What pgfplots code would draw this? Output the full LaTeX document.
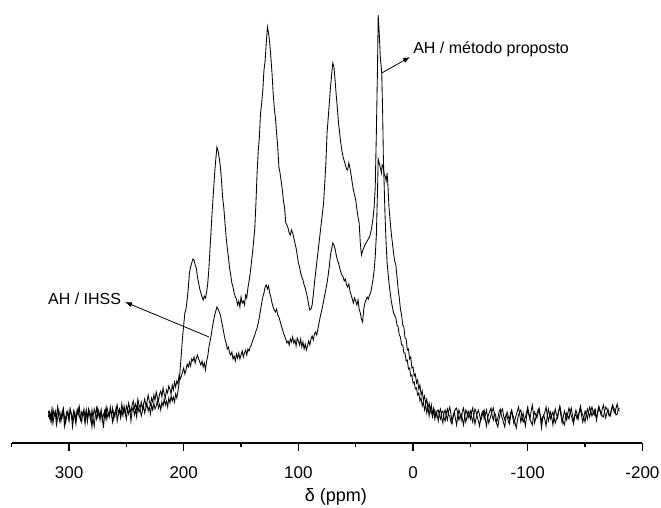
\documentclass[border=0pt]{standalone}
\usepackage{pgfplots}
\pgfplotsset{compat=1.18}
\usepackage{fontspec}
\setmainfont{Liberation Sans}
\usetikzlibrary{arrows.meta}

\pgfplotstableread{
x y
318 2
317 -5
316 -1
315 -9
314 4
313 -3
312 1
311 -12
310 -6
309 3
308 -2
307 -8
306 0
305 5
304 -4
303 -10
302 -3
301 2
300 -6
299 4
298 -1
297 -14
296 -5
295 1
294 -7
293 3
292 -2
291 6
290 -4
289 -9
288 0
287 -3
286 -11
285 2
284 -5
283 4
282 -2
281 -8
280 3
279 -6
278 -13
277 -1
276 5
275 -4
274 1
273 -7
272 2
271 -3
270 -15
269 -2
268 4
267 -6
266 0
265 -4
264 6
263 -2
262 -9
261 1
260 -3
259 5
258 -8
257 -1
256 3
255 -5
254 2
253 -3
252 7
251 0
250 -6
249 4
248 -1
247 5
246 -8
245 2
244 6
243 -2
242 3
241 -4
240 8
239 1
238 4
237 -3
236 2
235 7
234 0
233 5
232 9
231 2
230 6
229 -1
228 8
227 3
226 10
225 4
224 7
223 12
222 5
221 9
220 3
219 11
218 7
217 14
216 8
215 12
214 6
213 15
212 10
211 17
210 12
209 16
208 11
207 19
206 15
205 22
204 30
203 45
202 60
201 76
200 88
199 100
198 104
197 113
196 125
195 140
194 146
193 150
192 154
191 153
190 148
189 145
188 136
187 130
186 124
185 120
184 116
183 113
182 117
181 115
180 121
179 130
178 145
177 165
176 185
175 205
174 222
173 240
172 254
171 266
170 262
169 255
168 246
167 232
166 215
165 205
164 190
163 176
162 165
161 156
160 145
159 138
158 130
157 126
156 120
155 116
154 114
153 108
152 112
151 106
150 116
149 110
148 112
147 108
146 118
145 115
144 125
143 132
142 140
141 150
140 160
139 172
138 185
137 210
136 240
135 262
134 276
133 300
132 310
131 323
130 343
129 352
128 370
127 386
126 380
125 370
124 356
123 340
122 320
121 305
120 295
119 280
118 266
117 246
116 240
115 232
114 223
113 212
112 205
111 190
110 188
109 185
108 180
107 178
106 183
105 180
104 175
103 170
102 165
101 158
100 150
99 146
98 140
97 136
96 133
95 128
94 125
93 120
92 115
91 108
90 103
89 104
88 108
87 118
86 130
85 140
84 150
83 160
82 170
81 180
80 190
79 200
78 210
77 230
76 250
75 280
74 295
73 310
72 326
71 338
70 350
69 346
68 333
67 318
66 305
65 290
64 280
63 270
62 262
61 256
60 252
59 248
58 244
57 243
56 250
55 245
54 238
53 230
52 223
51 218
50 213
49 204
48 196
47 190
46 170
45 158
44 162
43 165
42 168
41 170
40 172
39 174
38 176
37 180
36 186
35 194
34 205
33 225
32 280
31 345
30.4 398
29.5 380
28.5 355
27.3 340
26.5 300
25.9 256
24.5 200
23.5 170
22.6 150
21 130
19 112
17 100
15 95
14 88
13 86
12 78
11 76
10 68
9 68
8 60
7 60
6 52
5 53
4 44
3 45
2 37
1 38
0 30
-1 31
-2 24
-3 25
-4 18
-5 20
-6 12
-7 15
-8 7
-9 11
-10 3
-11 8
-12 0
-13 6
-14 -3
-15 5
-16 1
-17 -4
-18 3
-19 -6
-20 2
-21 -2
-22 -8
-23 1
-24 4
-25 -5
-26 -10
-27 0
-28 3
-29 -3
-30 -7
-31 2
-32 6
-33 -1
-34 -9
-35 -4
-36 1
-37 -6
-38 -12
-39 -2
-40 3
-41 -1
-42 -7
-43 2
-44 5
-45 -3
-46 -9
-47 -4
-48 2
-49 -2
-50 -6
-51 1
-52 5
-53 -4
-54 -11
-55 -5
-56 0
-57 3
-58 -2
-59 -8
-60 -4
-61 1
-62 3
-63 -6
-64 -13
-65 -5
-66 -1
-67 2
-68 5
-69 -3
-70 -7
-71 0
-72 -2
-73 -9
-74 -5
-75 1
-76 4
-77 -2
-78 -6
-79 -10
-80 -14
-81 -4
-82 1
-83 -3
-84 -7
-85 0
-86 3
-87 -5
-88 -11
-89 -6
-90 -2
-91 2
-92 6
-93 -1
-94 -9
-95 -4
-96 0
-97 -7
-98 -13
-99 -3
-100 3
-101 -2
-102 -6
-103 2
-104 8
-105 -1
-106 -10
-107 -5
-108 -1
-109 3
-110 5
-111 -4
-112 -15
-113 -6
-114 -2
-115 1
-116 6
-117 -2
-118 -8
-119 -3
-120 1
-121 -5
-122 -12
-123 -2
-124 4
-125 -1
-126 -5
-127 2
-128 6
-129 -3
-130 -10
-131 -4
-132 2
-133 -2
-134 -7
-135 0
-136 5
-137 1
-138 -3
-139 -7
-140 -11
-141 -2
-142 3
-143 -1
-144 -6
-145 2
-146 7
-147 1
-148 -2
-149 -5
-150 -9
-151 -1
-152 4
-153 0
-154 -4
-155 2
-156 6
-157 1
-158 -2
-159 3
-160 -7
-161 0
-162 5
-163 2
-164 -2
-165 4
-166 8
-167 1
-168 -5
-169 0
-170 4
-171 -1
-172 -3
-173 3
-174 7
-175 2
-176 0
-177 5
-178 9
-179 3
-180 2
}\proposto

\pgfplotstableread{
x y
318 -4
317 1
316 -7
315 3
314 -10
313 -2
312 2
311 -5
310 6
309 -3
308 -9
307 0
306 -4
305 3
304 -13
303 -5
302 1
301 -2
300 -8
299 4
298 -1
297 -6
296 2
295 -4
294 -11
293 0
292 5
291 -3
290 -7
289 1
288 -2
287 4
286 -5
285 3
284 -9
283 -1
282 2
281 -4
280 -14
279 -3
278 4
277 -1
276 -6
275 5
274 1
273 -4
272 3
271 -8
270 -2
269 2
268 -5
267 6
266 1
265 -3
264 4
263 -2
262 5
261 -6
260 0
259 3
258 8
257 -1
256 4
255 -2
254 9
253 2
252 5
251 -1
250 7
249 3
248 10
247 4
246 1
245 8
244 12
243 5
242 9
241 3
240 14
239 8
238 5
237 11
236 4
235 9
234 14
233 7
232 11
231 18
230 12
229 8
228 15
227 11
226 18
225 13
224 21
223 16
222 12
221 19
220 22
219 16
218 25
217 19
216 15
215 23
214 20
213 27
212 24
211 19
210 28
209 23
208 31
207 26
206 32
205 29
204 38
203 34
202 37
201 41
200 45
199 39
198 43
197 49
196 46
195 51
194 47
193 54
192 52
191 56
190 50
189 55
188 58
187 54
186 51
185 48
184 52
183 46
182 50
181 43
180 52
179 57
178 66
177 72
176 78
175 86
174 92
173 98
172 102
171 106
170 104
169 101
168 98
167 92
166 86
165 80
164 74
163 70
162 64
161 66
160 60
159 58
158 61
157 54
156 57
155 52
154 59
153 55
152 60
151 54
150 58
149 62
148 56
147 60
146 63
145 58
144 64
143 62
142 66
141 68
140 72
139 75
138 78
137 82
136 85
135 90
134 96
133 103
132 110
131 116
130 120
129 126
128 128
127 124
126 127
125 120
124 116
123 110
122 106
121 103
120 101
119 104
118 98
117 96
116 92
115 88
114 84
113 80
112 77
111 74
110 70
109 72
108 68
107 74
106 71
105 76
104 70
103 73
102 67
101 75
100 72
99 68
98 74
97 66
96 71
95 64
94 69
93 63
92 67
91 72
90 68
89 74
88 77
87 73
86 79
85 81
84 78
83 84
82 90
81 96
80 101
79 106
78 112
77 118
76 124
75 130
74 138
73 147
72 158
71 164
70 170
69 168
68 164
67 158
66 153
65 150
64 145
63 141
62 138
61 136
60 132
59 134
58 128
57 126
56 129
55 122
54 118
53 114
52 110
51 115
50 112
49 108
48 113
47 104
46 100
45 94
44 91
43 104
42 110
41 113
40 116
39 114
38 118
37 120
36 126
35 133
34 142
33 156
32 178
31 222
30.4 254
29.5 250
28.5 245
27.5 240
27 248
26 246
25 238
24 236
23.5 232
22.6 240
21.8 225
21 206
20 192
19 180
18 170
17 160
16 152
15 148
14 136
13 124
12 115
11 104
10 98
9 88
8 86
7 75
6 74
5 63
4 64
3 54
2 56
1 45
0 46
-1 37
-2 39
-3 30
-4 33
-5 24
-6 28
-7 18
-8 22
-9 13
-10 17
-11 9
-12 14
-13 5
-14 10
-15 2
-16 8
-17 -2
-18 5
-19 0
-20 -4
-21 2
-22 3
-23 -3
-24 -6
-25 1
-26 2
-27 -5
-28 -8
-29 0
-30 4
-31 -2
-32 -3
-33 -9
-34 -11
-35 -2
-36 1
-37 4
-38 5
-39 -1
-40 -7
-41 -3
-42 -1
-43 -6
-44 -12
-45 -4
-46 3
-47 0
-48 -5
-49 -1
-50 2
-51 -4
-52 -9
-53 -2
-54 4
-55 1
-56 -4
-57 -8
-58 -13
-59 -5
-60 0
-61 2
-62 -6
-63 -2
-64 3
-65 -4
-66 -10
-67 -6
-68 -2
-69 2
-70 5
-71 -1
-72 -8
-73 -11
-74 -14
-75 -6
-76 -1
-77 2
-78 4
-79 -3
-80 -7
-81 -2
-82 -3
-83 -8
-84 -11
-85 -4
-86 2
-87 -2
-88 -6
-89 -10
-90 -15
-91 -7
-92 -2
-93 1
-94 3
-95 -4
-96 -9
-97 -6
-98 -4
-99 1
-100 6
-101 0
-102 -7
-103 -9
-104 -12
-105 -3
-106 1
-107 -2
-108 -5
-109 0
-110 3
-111 -3
-112 -8
-113 -4
-114 -2
-115 -7
-116 -13
-117 -3
-118 4
-119 -1
-120 -6
-121 -2
-122 1
-123 -5
-124 -10
-125 -6
-126 -3
-127 2
-128 7
-129 1
-130 -5
-131 -9
-132 -12
-133 -4
-134 0
-135 -3
-136 -6
-137 1
-138 5
-139 -2
-140 -8
-141 -3
-142 -1
-143 -6
-144 -4
-145 1
-146 4
-147 -3
-148 -9
-149 -4
-150 2
-151 -1
-152 -6
-153 1
-154 6
-155 2
-156 -3
-157 0
-158 3
-159 -2
-160 -5
-161 2
-162 7
-163 3
-164 0
-165 -3
-166 -4
-167 2
-168 6
-169 4
-170 1
-171 -3
-172 -2
-173 4
-174 8
-175 5
-176 3
-177 -2
-178 -1
-179 4
-180 5
}\ihss

\begin{document}
\begin{tikzpicture}
\begin{axis}[name=ax, at={(0,0)}, anchor=south west,
  scale only axis, width=630.7pt, height=443pt,
  x dir=reverse, xmin=-200, xmax=350, ymin=-30, ymax=413,
  axis x line*=bottom, axis y line=none,
  x axis line style={-, line width=1.2pt, black},
  xtick={300,200,100,0,-100,-200},
  xticklabels={300,200,100,0,-100,-200},
  minor xtick={350,250,150,50,-50,-150},
  tick align=outside, major tick length=8pt, minor tick length=4pt,
  tick style={black, line width=1.2pt},
  xticklabel style={font=\fontsize{17}{20}\selectfont, anchor=north, inner sep=0pt, yshift=-15pt},
  xlabel={δ (ppm)},
  xlabel style={font=\fontsize{18}{21}\selectfont, at={(axis description cs:0.514,0)}, anchor=base, inner sep=0pt, yshift=-58.5pt},
  clip=false, no markers,
]
\addplot[black, line width=0.85pt] table[x=x, y=y] {\proposto};
\addplot[black, line width=0.85pt] table[x=x, y=y] {\ihss};
\draw[-{Latex[length=7pt,width=5pt]}, line width=0.8pt] (axis cs:27.3,340) -- (axis cs:2.6,356);
\node[anchor=base west, inner sep=0pt, font=\fontsize{16}{19}\selectfont] at (axis cs:0,360) {AH / método proposto};
\draw[-{Latex[length=7pt,width=5pt]}, line width=0.8pt] (axis cs:177.9,76) -- (axis cs:251.2,111);
\node[anchor=base east, inner sep=0pt, font=\fontsize{16}{19}\selectfont] at (axis cs:254.5,109) {AH / IHSS};
\end{axis}
\pgfresetboundingbox
\path[use as bounding box] ([shift={(-11.7pt,-64pt)}]ax.south west) rectangle ([shift={(18.6pt,0pt)}]ax.north east);
\end{tikzpicture}
\end{document}
